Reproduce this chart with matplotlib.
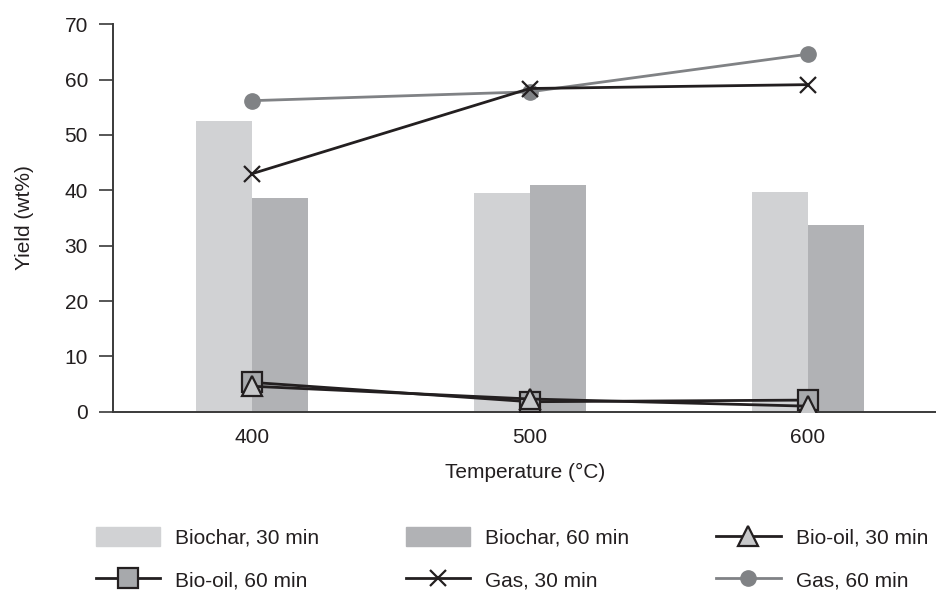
import numpy as np
import matplotlib
matplotlib.use("Agg")
import matplotlib.pyplot as plt
from matplotlib.patches import Patch
from matplotlib.lines import Line2D

plt.rcParams['font.family'] = ['Liberation Sans', 'DejaVu Sans']

temps = ["400", "500", "600"]
biochar_30 = [52.5, 39.5, 39.7]
biochar_60 = [38.6, 41.0, 33.8]
biooil_30 = [4.6, 2.3, 1.0]
biooil_60 = [5.3, 1.8, 2.1]
gas_30 = [43.0, 58.4, 59.1]
gas_60 = [56.2, 57.8, 64.6]

txt = "#231f20"
c_b30 = "#d1d2d4"
c_b60 = "#b1b2b5"
c_gas60 = "#808285"
fs = 15

x = np.arange(len(temps))
w = 0.202

fig = plt.figure(figsize=(9.37, 5.90), dpi=100)
ax = fig.add_axes([0.1206, 0.3022, 0.8794, 0.6566])

ax.bar(x - w / 2, biochar_30, w, color=c_b30, zorder=1)
ax.bar(x + w / 2, biochar_60, w, color=c_b60, zorder=1)

ax.plot(x, gas_60, color=c_gas60, lw=2, marker="o", ms=11, mfc=c_gas60, mec=c_gas60, zorder=3)
ax.plot(x, gas_30, color=txt, lw=2, marker="x", ms=12, mew=1.6, mec=txt, zorder=4)
ax.plot(x, biooil_60, color=txt, lw=2, marker="s", ms=15, mfc="#a7a9ac", mec=txt, mew=1.6, zorder=3)
ax.plot(x, biooil_30, color=txt, lw=2, marker="^", ms=14, mfc="#c7c8ca", mec=txt, mew=1.6, zorder=4)

ax.set_xlim(-0.5, 2.465)
ax.set_ylim(0, 70)
ax.set_yticks(range(0, 71, 10))
ax.set_xticks(x)
ax.set_xticklabels(temps)

for s in ["top", "right"]:
    ax.spines[s].set_visible(False)
for s in ["left", "bottom"]:
    ax.spines[s].set_color("#3a3a3a")
    ax.spines[s].set_linewidth(1.4)

ax.tick_params(axis="y", length=10, width=1.2, color="#3a3a3a", labelsize=fs, labelcolor=txt, pad=8)
ax.tick_params(axis="x", length=0, labelsize=fs, labelcolor=txt, pad=12)

ax.set_xlabel("Temperature (°C)", fontsize=fs, color=txt, labelpad=11)
ax.set_ylabel("Yield (wt%)", fontsize=fs, color=txt, labelpad=22)

h_b30 = Patch(color=c_b30, label="Biochar, 30 min")
h_b60 = Patch(color=c_b60, label="Biochar, 60 min")
h_o30 = Line2D([], [], color=txt, lw=2, marker="^", ms=14, mfc="#c7c8ca", mec=txt, mew=1.6, label="Bio-oil, 30 min")
h_o60 = Line2D([], [], color=txt, lw=2, marker="s", ms=14, mfc="#a7a9ac", mec=txt, mew=1.6, label="Bio-oil, 60 min")
h_g30 = Line2D([], [], color=txt, lw=2, marker="x", ms=12, mew=1.6, label="Gas, 30 min")
h_g60 = Line2D([], [], color=c_gas60, lw=2, marker="o", ms=11, label="Gas, 60 min")

# matplotlib fills legend columns first, so reorder to read row-wise
handles = [h_b30, h_o60, h_b60, h_g30, h_o30, h_g60]
leg = fig.legend(handles=handles, loc="upper left", bbox_to_anchor=(0.082, 0.138),
                 ncol=3, frameon=False, fontsize=fs, handlelength=3.1, handleheight=1.0,
                 columnspacing=4.15, labelspacing=1.05, handletextpad=0.72, borderpad=0.4)
for t in leg.get_texts():
    t.set_color(txt)

fig.savefig("out.png", dpi=100)
